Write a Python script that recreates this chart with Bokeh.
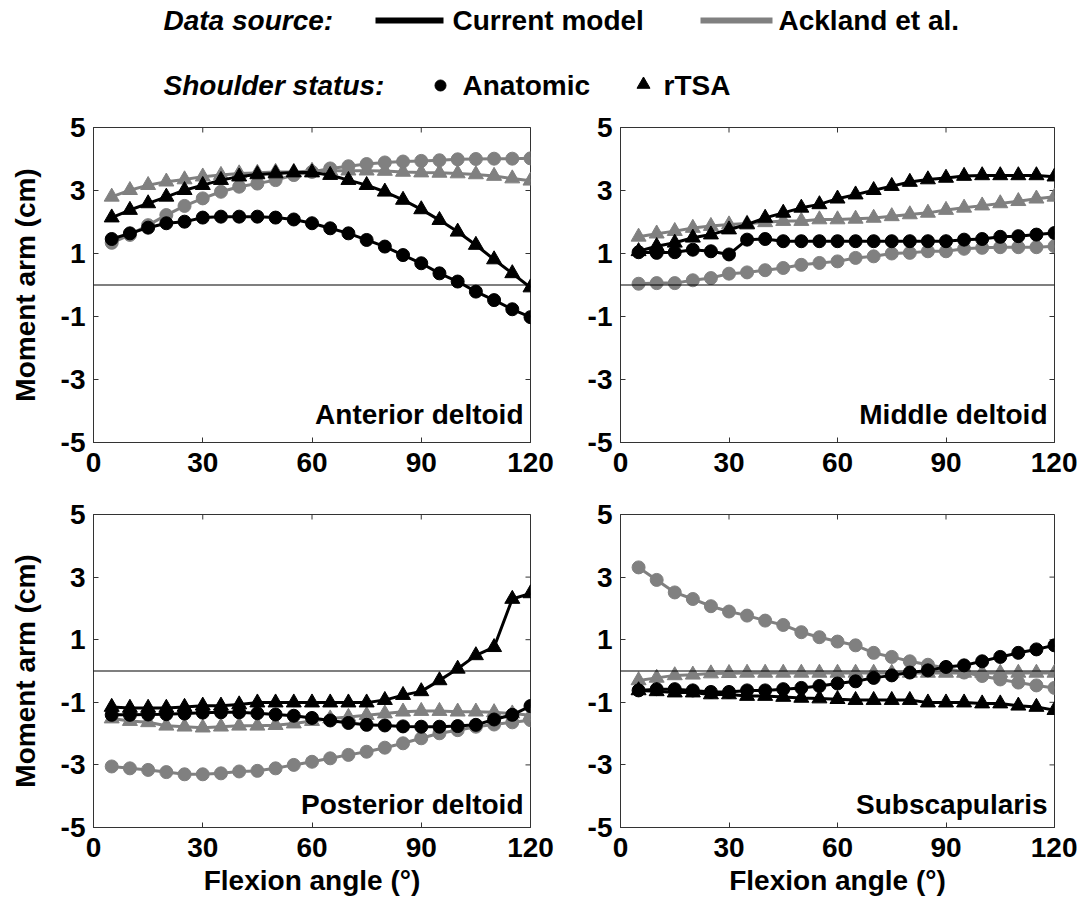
import math
from bokeh.plotting import figure
from bokeh.models import Range1d, Span, Label, FixedTicker
from bokeh.layouts import column, row
from bokeh.embed import file_html
from bokeh.resources import INLINE
from bokeh.core.properties import value

# ---------------- data ----------------
angles = [5, 10, 15, 20, 25, 30, 35, 40, 45, 50, 55, 60,
          65, 70, 75, 80, 85, 90, 95, 100, 105, 110, 115, 120]

x_ticks = [0, 30, 60, 90, 120]
y_ticks = [-5, -3, -1, 1, 3, 5]
x_min, x_max = 0, 120
y_min, y_max = -5, 5

panel_names = ["Anterior deltoid", "Middle deltoid", "Posterior deltoid", "Subscapularis"]
source_names = ["Current model", "Ackland et al."]
status_names = ["Anatomic", "rTSA"]

# Anterior deltoid
ad_cur_anat = [1.46, 1.64, 1.82, 1.96, 2.01, 2.14, 2.17, 2.17, 2.17, 2.14, 2.08, 1.96,
               1.80, 1.64, 1.43, 1.22, 0.95, 0.69, 0.37, 0.11, -0.21, -0.48, -0.77, -1.02]
ad_cur_rtsa = [2.14, 2.38, 2.59, 2.80, 3.01, 3.17, 3.33, 3.44, 3.51, 3.54, 3.57, 3.57,
               3.49, 3.33, 3.17, 2.96, 2.70, 2.40, 2.06, 1.69, 1.27, 0.81, 0.37, -0.08]
ad_ack_anat = [1.34, 1.59, 1.90, 2.22, 2.51, 2.75, 2.96, 3.12, 3.22, 3.33, 3.49, 3.59,
               3.70, 3.77, 3.84, 3.89, 3.92, 3.94, 3.96, 3.99, 4.00, 4.01, 4.01, 4.02]
ad_ack_rtsa = [2.80, 3.01, 3.17, 3.28, 3.35, 3.44, 3.49, 3.54, 3.56, 3.59, 3.59, 3.62,
               3.63, 3.63, 3.63, 3.62, 3.59, 3.57, 3.56, 3.54, 3.51, 3.46, 3.38, 3.31]

# Middle deltoid
md_cur_anat = [1.04, 1.02, 1.04, 1.12, 1.07, 0.97, 1.44, 1.46, 1.39, 1.39, 1.39, 1.39,
               1.39, 1.39, 1.39, 1.39, 1.39, 1.39, 1.44, 1.46, 1.53, 1.55, 1.60, 1.65]
md_cur_rtsa = [1.07, 1.23, 1.34, 1.50, 1.60, 1.76, 1.92, 2.13, 2.29, 2.45, 2.56, 2.74,
               2.87, 3.01, 3.14, 3.27, 3.35, 3.40, 3.46, 3.48, 3.48, 3.48, 3.48, 3.44]
md_ack_anat = [0.04, 0.06, 0.06, 0.15, 0.22, 0.36, 0.40, 0.47, 0.54, 0.64, 0.70, 0.75,
               0.86, 0.91, 1.00, 1.02, 1.07, 1.07, 1.15, 1.18, 1.20, 1.20, 1.20, 1.23]
md_ack_rtsa = [1.53, 1.63, 1.71, 1.81, 1.87, 1.92, 1.95, 1.99, 2.03, 2.03, 2.08, 2.08,
               2.10, 2.13, 2.18, 2.24, 2.29, 2.38, 2.45, 2.52, 2.59, 2.66, 2.74, 2.80]

# Posterior deltoid
pd_cur_anat = [-1.40, -1.40, -1.39, -1.38, -1.36, -1.33, -1.32, -1.32, -1.35, -1.39, -1.43, -1.50,
               -1.58, -1.66, -1.72, -1.74, -1.77, -1.78, -1.78, -1.76, -1.72, -1.55, -1.40, -1.12]
pd_cur_rtsa = [-1.15, -1.18, -1.18, -1.18, -1.15, -1.11, -1.11, -1.07, -1.01, -1.01, -1.01, -1.01,
               -1.01, -1.01, -1.01, -0.93, -0.77, -0.65, -0.30, 0.07, 0.50, 0.76, 2.30, 2.48]
pd_ack_anat = [-3.05, -3.11, -3.16, -3.23, -3.30, -3.30, -3.27, -3.21, -3.19, -3.11, -3.00, -2.90,
               -2.79, -2.68, -2.58, -2.45, -2.31, -2.15, -1.99, -1.89, -1.78, -1.71, -1.64, -1.57]
pd_ack_rtsa = [-1.52, -1.60, -1.64, -1.75, -1.78, -1.81, -1.78, -1.75, -1.75, -1.73, -1.68, -1.60,
               -1.52, -1.47, -1.41, -1.36, -1.30, -1.28, -1.28, -1.30, -1.30, -1.32, -1.36, -1.41]

# Subscapularis
ss_cur_anat = [-0.62, -0.58, -0.58, -0.62, -0.67, -0.67, -0.62, -0.62, -0.58, -0.54, -0.48, -0.40,
               -0.33, -0.22, -0.14, -0.05, 0.02, 0.13, 0.18, 0.31, 0.45, 0.58, 0.69, 0.82]
ss_cur_rtsa = [-0.62, -0.65, -0.69, -0.69, -0.75, -0.75, -0.80, -0.80, -0.83, -0.86, -0.88, -0.90,
               -0.93, -0.93, -0.93, -0.93, -1.01, -1.01, -1.01, -1.04, -1.04, -1.11, -1.15, -1.25]
ss_ack_anat = [3.31, 2.91, 2.51, 2.30, 2.07, 1.90, 1.77, 1.61, 1.47, 1.24, 1.08, 0.94,
               0.82, 0.58, 0.45, 0.31, 0.20, 0.10, -0.05, -0.16, -0.27, -0.37, -0.46, -0.54]
ss_ack_rtsa = [-0.30, -0.22, -0.14, -0.12, -0.08, -0.07, -0.06, -0.06, -0.06, -0.06, -0.06, -0.06,
               -0.06, -0.06, -0.06, -0.06, -0.06, -0.06, -0.06, -0.06, -0.06, -0.06, -0.06, -0.06]

# ---------------- style ----------------
FONT = "Liberation Sans"
FS = "28px"
BLACK = "#000000"
GRAY = "#808080"
FRAME = "#333333"


def style_axis(ax, ticks):
    ax.ticker = FixedTicker(ticks=ticks)
    ax.major_label_overrides = {t: str(t) for t in ticks}
    ax.major_tick_in = 5
    ax.major_tick_out = 0
    ax.minor_tick_in = 0
    ax.minor_tick_out = 0
    ax.major_tick_line_color = FRAME
    ax.axis_line_color = FRAME
    ax.major_label_text_font = FONT
    ax.major_label_text_font_style = "bold"
    ax.major_label_text_font_size = FS
    ax.major_label_text_color = BLACK
    ax.axis_label_text_font = FONT
    ax.axis_label_text_font_style = "bold"
    ax.axis_label_text_font_size = FS
    ax.axis_label_text_color = BLACK


def make_panel(name, cur_anat, cur_rtsa, ack_anat, ack_rtsa, fw, fh,
               left, right, top, bottom, ylabel, xlabel, label_dy):
    p = figure(frame_width=fw, frame_height=fh,
               x_range=Range1d(x_min, x_max), y_range=Range1d(y_min, y_max),
               toolbar_location=None, output_backend="svg",
               min_border_left=left, min_border_right=right,
               min_border_top=top, min_border_bottom=bottom,
               background_fill_color="white", border_fill_color="white")
    p.grid.visible = False
    p.outline_line_color = FRAME
    p.outline_line_width = 1

    style_axis(p.xaxis[0], x_ticks)
    style_axis(p.yaxis[0], y_ticks)
    p.yaxis[0].major_label_standoff = 8
    p.xaxis[0].major_label_standoff = 10
    if ylabel:
        p.yaxis[0].axis_label = "Moment arm (cm)"
        p.yaxis[0].axis_label_standoff = 17
    if xlabel:
        p.xaxis[0].axis_label = "Flexion angle (°)"
        p.xaxis[0].axis_label_standoff = 5

    # inward tick marks on the right and top edges of the box
    p.scatter(x=[x_max] * len(y_ticks), y=y_ticks, marker="dash", size=10,
              line_color=FRAME, line_width=1)
    p.scatter(x=x_ticks, y=[y_max] * len(x_ticks), marker="dash", angle=math.pi / 2,
              size=10, line_color=FRAME, line_width=1)

    p.add_layout(Span(location=0, dimension="width", line_color=BLACK, line_width=1.2))

    # Ackland (gray) first, current model (black) on top
    for ys, col, mk, sz in [(ack_anat, GRAY, "circle", 13), (ack_rtsa, GRAY, "triangle", 15),
                            (cur_anat, BLACK, "circle", 13), (cur_rtsa, BLACK, "triangle", 15)]:
        p.line(angles, ys, line_color=col, line_width=3)
        p.scatter(angles, ys, marker=mk, size=sz, fill_color=col, line_color=col)

    p.add_layout(Label(x=x_max, y=y_min, x_offset=-7, y_offset=label_dy, text=name,
                       text_align="right", text_baseline="alphabetic",
                       text_font=FONT, text_font_style="bold", text_font_size=FS,
                       text_color=BLACK))
    return p


tl = make_panel(panel_names[0], ad_cur_anat, ad_cur_rtsa, ad_ack_anat, ad_ack_rtsa,
                437, 315, 93, 25, 19, 41, True, False, 28)
tr = make_panel(panel_names[1], md_cur_anat, md_cur_rtsa, md_ack_anat, md_ack_rtsa,
                434, 315, 65, 23, 19, 41, False, False, 28)
bl = make_panel(panel_names[2], pd_cur_anat, pd_cur_rtsa, pd_ack_anat, pd_ack_rtsa,
                437, 313, 93, 25, 31, 77, True, True, 23)
br = make_panel(panel_names[3], ss_cur_anat, ss_cur_rtsa, ss_ack_anat, ss_ack_rtsa,
                434, 313, 65, 23, 31, 77, False, True, 23)

# ---------------- legend header ----------------
LG_W = 1077
LG_H = 108
lg = figure(width=LG_W, height=LG_H, x_range=Range1d(0, LG_W), y_range=Range1d(0, LG_H),
            toolbar_location=None, output_backend="svg", min_border=0,
            x_axis_type=None, y_axis_type=None)
lg.grid.visible = False
lg.outline_line_color = None

row1 = LG_H - 20
row2 = LG_H - 85
txt = dict(text_font=value(FONT), text_font_size=FS, text_baseline="middle",
           text_align="left", text_color=BLACK)
lg.text(x=[163], y=[row1], text=["Data source:"], text_font_style="bold italic", **txt)
lg.line(x=[375, 443], y=[row1, row1], line_color=BLACK, line_width=6)
lg.text(x=[452], y=[row1], text=[source_names[0]], text_font_style="bold", **txt)
lg.line(x=[700, 772], y=[row1, row1], line_color=GRAY, line_width=6)
lg.text(x=[778], y=[row1], text=[source_names[1]], text_font_style="bold", **txt)

lg.text(x=[163], y=[row2], text=["Shoulder status:"], text_font_style="bold italic", **txt)
lg.scatter(x=[440], y=[row2], marker="circle", size=11, fill_color=BLACK, line_color=BLACK)
lg.text(x=[462], y=[row2], text=[status_names[0]], text_font_style="bold", **txt)
lg.scatter(x=[643], y=[row2 + 1], marker="triangle", size=13, fill_color=BLACK, line_color=BLACK)
lg.text(x=[663], y=[row2], text=[status_names[1]], text_font_style="bold", **txt)

layout = column(lg, row(tl, tr), row(bl, br))

open("out.html", "w").write(file_html(layout, INLINE))
